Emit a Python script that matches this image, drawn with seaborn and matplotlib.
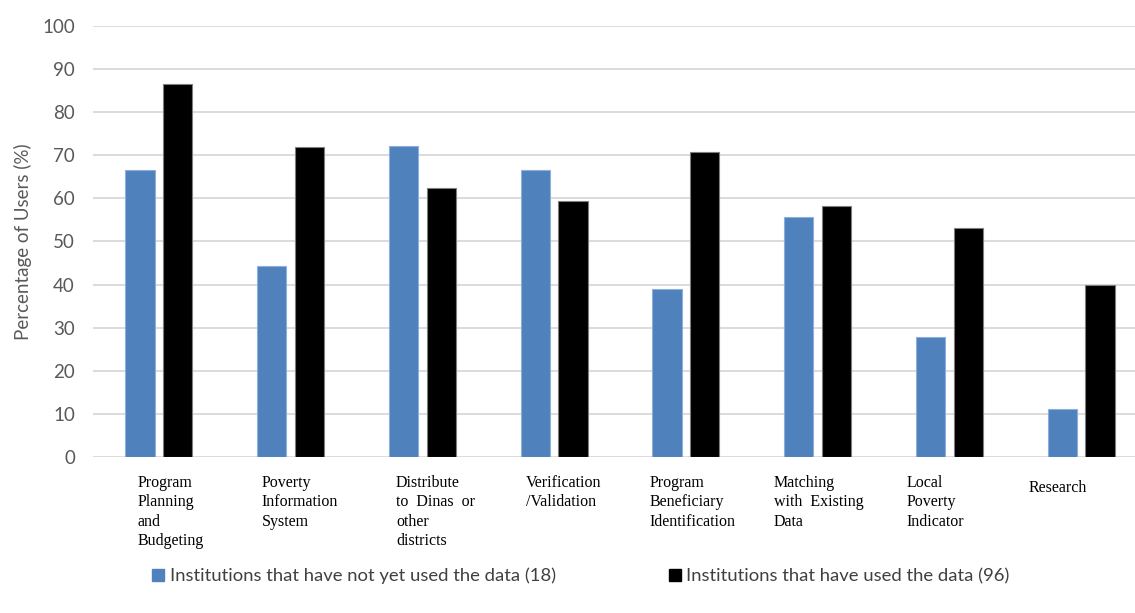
import matplotlib
matplotlib.use("Agg")
import matplotlib.pyplot as plt
import matplotlib.transforms as mtransforms
from matplotlib.patches import Patch
import pandas as pd
import seaborn as sns

# Categories of data use
categories = [
    "Program\nPlanning\nand\nBudgeting",
    "Poverty\nInformation\nSystem",
    "Distribute\nto  Dinas  or\nother\ndistricts",
    "Verification\n/Validation",
    "Program\nBeneficiary\nIdentification",
    "Matching\nwith  Existing\nData",
    "Local\nPoverty\nIndicator",
    "Research",
]
series_names = [
    "Institutions that have not yet used the data (18)",
    "Institutions that have used the data (96)",
]
not_yet_used = [66.7, 44.4, 72.2, 66.7, 38.9, 55.6, 27.8, 11.1]
have_used = [86.5, 71.9, 62.5, 59.4, 70.8, 58.3, 53.1, 40.0]
y_ticks = list(range(0, 101, 10))

colors = ["#4F81BD", "#000000"]
edge_colors = ["#8EAEDB", "#7F7F7F"]

df = pd.DataFrame({
    "category": categories * 2,
    "series": [series_names[0]] * len(categories) + [series_names[1]] * len(categories),
    "value": not_yet_used + have_used,
})

sns.set_theme(style="white")
plt.rcParams["font.family"] = ["Lato", "DejaVu Sans"]

fig = plt.figure(figsize=(11.35, 6.13), dpi=100)
ax = fig.add_axes([93 / 1135, 1 - 457 / 613, 1054 / 1135, 431 / 613])

sns.barplot(
    data=df, x="category", y="value", hue="series",
    order=categories, hue_order=series_names,
    palette=colors, saturation=1, width=0.572, gap=0.22,
    errorbar=None, ax=ax, legend=False, zorder=3,
)
for i, container in enumerate(ax.containers):
    for bar in container:
        bar.set_edgecolor(edge_colors[i])
        bar.set_linewidth(0.8)

ax.set_ylim(0, 100)
ax.set_xlim(-0.5, len(categories) - 0.5)
ax.set_yticks(y_ticks)
ax.set_yticklabels([str(t) for t in y_ticks], fontsize=13.5, color="#595959")
ax.tick_params(axis="y", length=0, pad=13)
ax.set_xticks([])
ax.set_xlabel("")
ax.set_ylabel("Percentage of Users (%)", fontsize=13.5, color="#595959")
ax.yaxis.set_label_coords(-61 / 1054, 0.5)
ax.grid(axis="y", color="#D9D9D9", linewidth=1.3, zorder=0)
ax.set_axisbelow(True)
for side in ["top", "right", "left", "bottom"]:
    ax.spines[side].set_visible(False)

# Category labels: left-aligned serif text blocks under each group
label_shift = [-0.159, -0.218, -0.201, -0.215, -0.274, -0.333, -0.324, -0.398]
label_drop = [0, 0, 0, 0, 0, 0, 0, 5]
trans = mtransforms.blended_transform_factory(ax.transData, ax.transAxes)
for i, (name, dx) in enumerate(zip(categories, label_shift)):
    ax.text(
        i + dx, -(18 + label_drop[i]) / 431, name, transform=trans,
        ha="left", va="top", multialignment="left",
        fontsize=11.5, linespacing=1.28,
        family=["Liberation Serif", "DejaVu Serif"], color="#000000",
    )

handles = [Patch(facecolor=c, edgecolor=c) for c in colors]
fig.legend(
    handles, series_names, loc="center", bbox_to_anchor=(581 / 1135, 1 - 576 / 613),
    ncol=2, frameon=False, fontsize=13.3, handlelength=0.65, handleheight=0.65,
    handletextpad=0.3, columnspacing=6.1, labelcolor="#404040",
)

fig.savefig("out.png", dpi=100)
